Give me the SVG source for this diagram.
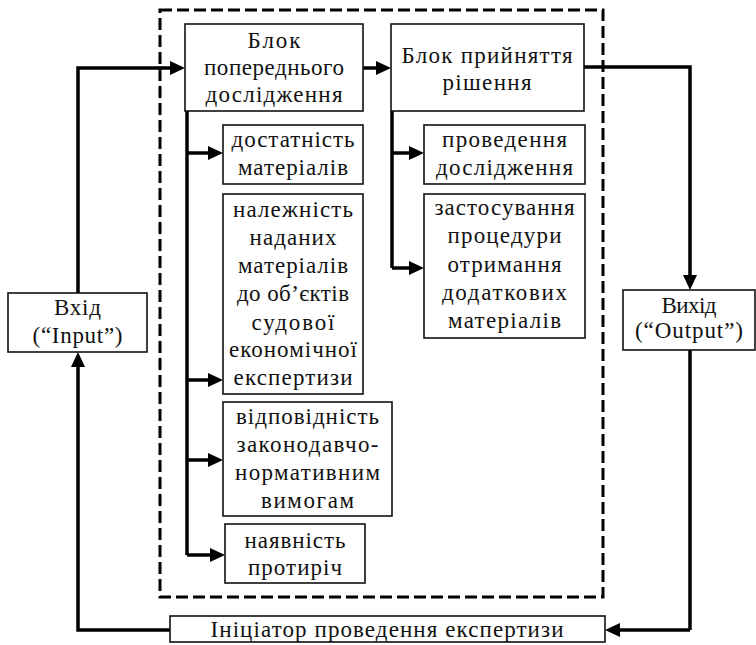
<svg xmlns="http://www.w3.org/2000/svg" width="756" height="645" viewBox="0 0 756 645">
<style>
.box{fill:#fff;stroke:#111;stroke-width:1.6}
.t{font-family:"Liberation Serif","DejaVu Serif",serif;font-size:23px;fill:#111;text-anchor:middle}
.c{fill:none;stroke:#000;stroke-width:3.5}
.arr{marker-end:url(#ah)}
</style>
<defs>
<marker id="ah" markerUnits="userSpaceOnUse" markerWidth="16" markerHeight="14" refX="11" refY="7" orient="auto"><path d="M0,0 L15,7 L0,14 z" fill="#000"/></marker>
</defs>
<rect x="0" y="0" width="756" height="645" fill="#fff"/>
<g id="boundary">
<rect x="160" y="10" width="443" height="587" fill="none" stroke="#000" stroke-width="3" stroke-dasharray="12 5"/>
</g>
<g id="connectors">
<path class="c arr" d="M78,293 V68 H181"/>
<path class="c arr" d="M363,68 H387"/>
<path class="c arr" d="M584,67 H690 V286"/>
<path class="c" d="M690,350 V630"/>
<path class="c arr" d="M690,630 H609"/>
<path class="c arr" d="M170,630 H78 V356"/>
<path class="c" d="M187,111 V555"/>
<path class="c arr" d="M187,153 H219"/>
<path class="c arr" d="M187,380 H219"/>
<path class="c arr" d="M187,460 H219"/>
<path class="c arr" d="M187,555 H221"/>
<path class="c" d="M392,111 V268"/>
<path class="c arr" d="M392,153 H420"/>
<path class="c arr" d="M392,268 H420"/>
</g>
<g id="block1">
<rect class="box" x="185" y="24" width="178" height="87"/>
<text class="t" x="274" y="48" textLength="53" lengthAdjust="spacing">Блок</text>
<text class="t" x="274" y="75" textLength="140" lengthAdjust="spacing">попереднього</text>
<text class="t" x="274" y="102" textLength="137" lengthAdjust="spacing">дослідження</text>
</g>
<g id="block2">
<rect class="box" x="391" y="24" width="193" height="87"/>
<text class="t" x="487" y="63" textLength="171" lengthAdjust="spacing">Блок прийняття</text>
<text class="t" x="487" y="90" textLength="89" lengthAdjust="spacing">рішення</text>
</g>
<g id="sufficiency">
<rect class="box" x="223" y="125" width="140" height="59"/>
<text class="t" x="293" y="147" textLength="123" lengthAdjust="spacing">достатність</text>
<text class="t" x="293" y="175" textLength="110" lengthAdjust="spacing">матеріалів</text>
</g>
<g id="relevance">
<rect class="box" x="223" y="194" width="140" height="200"/>
<text class="t" x="293" y="217" textLength="120" lengthAdjust="spacing">належність</text>
<text class="t" x="293" y="245" textLength="87" lengthAdjust="spacing">наданих</text>
<text class="t" x="293" y="273" textLength="110" lengthAdjust="spacing">матеріалів</text>
<text class="t" x="293" y="301" textLength="112" lengthAdjust="spacing">до об’єктів</text>
<text class="t" x="293" y="330" textLength="83" lengthAdjust="spacing">судової</text>
<text class="t" x="293" y="357" textLength="128" lengthAdjust="spacing">економічної</text>
<text class="t" x="293" y="385" textLength="119" lengthAdjust="spacing">експертизи</text>
</g>
<g id="compliance">
<rect class="box" x="223" y="402" width="169" height="114"/>
<text class="t" x="307.5" y="424" textLength="143" lengthAdjust="spacing">відповідність</text>
<text class="t" x="307.5" y="452" textLength="142" lengthAdjust="spacing">законодавчо-</text>
<text class="t" x="307.5" y="480" textLength="145" lengthAdjust="spacing">нормативним</text>
<text class="t" x="307.5" y="508" textLength="93" lengthAdjust="spacing">вимогам</text>
</g>
<g id="contradictions">
<rect class="box" x="225" y="524" width="140" height="59"/>
<text class="t" x="295" y="548" textLength="101" lengthAdjust="spacing">наявність</text>
<text class="t" x="295" y="575" textLength="94" lengthAdjust="spacing">протиріч</text>
</g>
<g id="research">
<rect class="box" x="424" y="125" width="161" height="59"/>
<text class="t" x="504.5" y="147" textLength="125" lengthAdjust="spacing">проведення</text>
<text class="t" x="504.5" y="175" textLength="137" lengthAdjust="spacing">дослідження</text>
</g>
<g id="procedure">
<rect class="box" x="424" y="194" width="161" height="144"/>
<text class="t" x="504.5" y="215" textLength="140" lengthAdjust="spacing">застосування</text>
<text class="t" x="504.5" y="243" textLength="114" lengthAdjust="spacing">процедури</text>
<text class="t" x="504.5" y="272" textLength="114" lengthAdjust="spacing">отримання</text>
<text class="t" x="504.5" y="300" textLength="125" lengthAdjust="spacing">додаткових</text>
<text class="t" x="504.5" y="328" textLength="113" lengthAdjust="spacing">матеріалів</text>
</g>
<g id="input">
<rect class="box" x="8" y="293" width="139" height="59"/>
<text class="t" x="77.5" y="315" textLength="47" lengthAdjust="spacing">Вхід</text>
<text class="t" x="77.5" y="343" textLength="90" lengthAdjust="spacing">(“Input”)</text>
</g>
<g id="output">
<rect class="box" x="623" y="290" width="132" height="60"/>
<text class="t" x="689" y="313" textLength="55" lengthAdjust="spacing">Вихід</text>
<text class="t" x="689" y="338" textLength="108" lengthAdjust="spacing">(“Output”)</text>
</g>
<g id="initiator">
<rect class="box" x="170" y="616" width="435" height="26"/>
<text class="t" x="387" y="637" textLength="353" lengthAdjust="spacing">Ініціатор проведення експертизи</text>
</g>
</svg>
